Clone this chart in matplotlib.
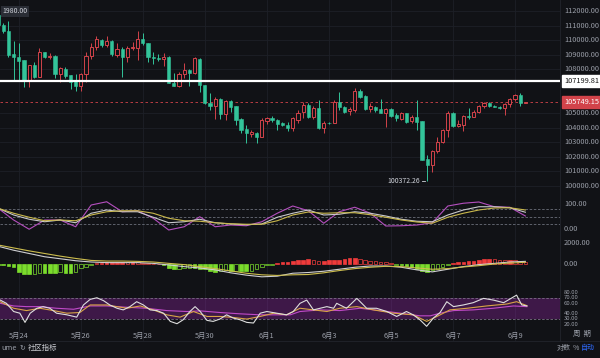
import matplotlib.pyplot as plt
import numpy as np

plt.rcParams['font.family'] = ['Noto Sans CJK SC', 'DejaVu Sans']

# 4h candles, oldest first
opens = [111725, 111040, 110650, 109027, 108867, 108638, 107197, 108295, 107494, 109164,
         108867, 108912, 107677, 108043, 107609, 107197, 106854, 107677, 108935, 109553,
         110010, 109667, 109941, 108981, 109370, 108821, 109438, 109484, 110079, 109827,
         108867, 108798, 108707, 108821, 107037, 106854, 107677, 107952, 107769, 108707,
         106923, 105665, 105482, 105962, 104910, 105825, 105482, 104567, 103881, 103561,
         103653, 103378, 104476, 104636, 104521, 104293, 104178, 103950, 104521, 105093,
         105550, 104705, 105322, 103950, 104339, 104339, 105779, 105436, 105139, 105208,
         106534, 106168, 105253, 105436, 105253, 105025, 105253, 104864, 104590, 104979,
         104476, 104750, 104453, 101823, 101434, 102417, 103035, 103835, 105025, 104110,
         104178, 104796, 104750, 105093, 105482, 105665, 105482, 105436, 105322, 105619,
         105940, 106237, 105700]
highs = [111980, 111200, 111337, 109941, 109781, 108638, 108295, 108524, 109438, 109210,
         109096, 108981, 108180, 108180, 107609, 107677, 107769, 109210, 109827, 110285,
         110056, 110285, 110010, 109827, 109553, 109598, 109896, 110650, 110468, 109827,
         109210, 109027, 109096, 108912, 107769, 107838, 108409, 107998, 108821, 108752,
         106923, 106351, 106077, 106008, 105894, 105894, 105482, 104636, 104178, 103835,
         103721, 104636, 104750, 104796, 104567, 104407, 104407, 104750, 105208, 105779,
         105665, 105482, 105894, 104476, 104407, 105894, 106465, 105482, 105390, 106694,
         106626, 106237, 105665, 105482, 105940, 105322, 105322, 105025, 105093, 105025,
         104865, 105894, 104453, 102120, 102463, 103378, 103881, 105162, 105093, 104521,
         104865, 105322, 105208, 105550, 105779, 105779, 105550, 105482, 105665, 106008,
         106306, 106397, 105770]
lows = [110970, 110468, 108867, 107266, 107266, 106762, 106808, 107380, 107494, 108752,
        108684, 107380, 107151, 107380, 106625, 106534, 106534, 107151, 108684, 109324,
        109553, 109553, 108912, 108867, 107449, 108524, 109324, 108638, 109667, 108524,
        108364, 108592, 108249, 107037, 106854, 106762, 107380, 106854, 107677, 106465,
        105619, 105207, 104567, 104567, 104521, 105093, 104178, 103607, 102966, 103378,
        102966, 103378, 104247, 104407, 103835, 104110, 103790, 103790, 104293, 104636,
        104636, 104567, 103881, 103652, 104247, 104293, 105208, 105025, 104865, 105093,
        106008, 105208, 105093, 105093, 104979, 104064, 104750, 104476, 104521, 104339,
        104339, 103835, 101777, 100372.26, 100977, 102280, 102920, 103378, 104019, 104064,
        103790, 104567, 104705, 104979, 105322, 105436, 105390, 105299, 104865, 105436,
        105848, 105482, 105700]
closes = [111040, 110650, 108981, 108867, 108592, 107197, 108295, 107494, 109164, 108867,
          108936, 107677, 108066, 107540, 107151, 106854, 107677, 108935, 109553, 110056,
          109667, 109964, 109027, 109370, 108821, 109484, 109553, 110079, 109782, 108867,
          108752, 108707, 108821, 107037, 106854, 107677, 107952, 107769, 108752, 106923,
          105665, 105482, 105962, 104910, 105825, 105436, 104521, 103835, 103607, 103721,
          103378, 104521, 104636, 104521, 104247, 104178, 103973, 104636, 105025, 105550,
          104750, 105322, 103950, 104339, 104293, 105779, 105390, 105093, 105253, 106534,
          106122, 105253, 105482, 105208, 105025, 105253, 104796, 104636, 104979, 104407,
          104750, 104407, 101777, 101434, 102417, 103035, 103835, 105025, 104110, 104247,
          104796, 104705, 105093, 105482, 105665, 105482, 105390, 105322, 105619, 105940,
          106237, 105700, 105749.15]

last_price = 105749.15
level_price = 107199.81
period_high = 111980.00
period_low = 100372.26

price_ticks = [112000, 111000, 110000, 109000, 108000, 105000, 104000, 103000, 102000, 101000, 100000]
date_pos = [4, 16, 28, 40, 52, 64, 76, 88, 100]
date_labels = ['5月24', '5月26', '5月28', '5月30', '6月1', '6月3', '6月5', '6月7', '6月9']

# KDJ, read every 3 bars
kdj_idx = list(range(0, 103, 3))
k_vals = [83, 56, 39, 29, 36, 25, 63, 76, 69, 69, 47, 25, 29, 39, 25, 20, 17, 20, 47, 63,
          76, 56, 59, 69, 63, 52, 39, 31, 29, 56, 76, 89, 89, 85, 67]
d_vals = [83, 63, 47, 33, 36, 33, 56, 69, 73, 73, 63, 43, 33, 31, 25, 21, 19, 19, 33, 56,
          68, 63, 65, 65, 57, 47, 36, 28, 23, 47, 63, 76, 84, 85, 76]
j_vals = [83, 36, -1, 36, 36, 9, 96, 109, 69, 73, 43, -4, 9, 49, 9, 16, 13, 29, 63, 92,
          73, 23, 69, 87, 63, 12, 13, 16, 25, 92, 103, 108, 89, 87, 52]

# MACD
dif_vals = [1690, 1310, 1000, 690, 500, 310, 190, 130, 130, 130, 60, -90, -250, -380, -560,
            -840, -1060, -1220, -1160, -880, -810, -690, -500, -310, -190, -190, -310, -560,
            -750, -500, -250, -60, 60, 190, 250]
dea_vals = [1810, 1530, 1250, 1000, 750, 530, 340, 280, 280, 250, 190, 60, -60, -250, -440,
            -660, -880, -1030, -1090, -1030, -1000, -840, -625, -440, -310, -220, -250, -375,
            -500, -440, -280, -160, 0, 90, 160]
hist_vals = [-50, -80, -150, -300, -800, -1000, -1000, -950, -850, -850,
             -850, -850, -800, -850, -850, -800, -400, -250, -120, 60,
             120, 150, 180, 200, 200, 180, 180, 150, 120, 60,
             40, 20, -100, -350, -500, -450, -400, -350, -400, -450,
             -500, -700, -750, -650, -600, -700, -650, -700, -700, -650,
             -500, -300, -100, -60, 120, 150, 200, 300, 350, 400,
             450, 350, 300, 300, 350, 400, 400, 450, 550, 550,
             450, 350, 300, 250, 200, 150, 100, -80, -100, -150,
             -250, -500, -700, -750, -600, -450, -300, -100, 100, 150,
             200, 250, 300, 400, 500, 500, 450, 400, 350, 400,
             350, 300, 200]

# RSI-type lines
rsi1_idx = [0.4, 1.6, 3.0, 4.2, 5.2, 6.2, 7.5, 8.7, 10.0, 11.3, 13.3, 15.2, 16.5, 17.8, 19.1,
            20.4, 21.6, 23.0, 24.2, 25.5, 26.8, 28.1, 29.4, 30.7, 32.0, 33.3, 34.6, 35.8, 37.1,
            38.1, 39.1, 40.4, 41.6, 42.9, 44.2, 45.5, 46.8, 48.1, 49.4, 50.7, 52.0, 53.9, 55.8,
            57.1, 58.4, 59.7, 61.0, 62.3, 63.6, 64.9, 65.5, 67.4, 69.4, 71.3, 73.2, 75.2, 77.1,
            79.0, 80.3, 81.6, 82.9, 84.2, 85.5, 86.8, 88.1, 90.0, 91.9, 93.9, 95.8, 97.8, 100.3,
            101.3, 102.3]
rsi1_vals = [65.6, 59.4, 43.8, 40.6, 23.1, 40.6, 50, 53.1, 50, 40.6, 37.5, 33.1, 56.3, 66.9, 70,
             64.4, 56.3, 50, 46.9, 53.1, 62.5, 56.3, 46.9, 45.6, 40.6, 25, 20.6, 28.1, 43.8,
             53.1, 43.8, 26.9, 25, 29.4, 37.5, 31.3, 28.1, 23.1, 21.9, 40.6, 43.8, 40.6, 37.5,
             43.8, 59.4, 65.6, 46.9, 50, 53.1, 50, 59.4, 50, 68.8, 50, 50, 43.8, 34.4,
             43.8, 37.5, 28.1, 15.6, 31.3, 41.9, 62.5, 53.1, 56.3, 60.6, 68.8, 65.6, 60.6, 75,
             56.3, 54.4]
rsi2_idx = [0.4, 3.0, 5.5, 8.1, 10.7, 13.3, 15.8, 17.8, 21.0, 24.9, 27.5, 30.0, 32.6, 35.2,
            37.8, 40.4, 42.9, 45.5, 48.1, 50.7, 53.3, 55.8, 58.4, 61.0, 63.6, 66.1, 69.4, 72.6,
            76.5, 80.3, 82.9, 84.9, 87.4, 90.7, 94.5, 98.4, 100.3, 102.3]
rsi2_vals = [62.5, 50, 45.6, 50, 45.6, 40.6, 41.9, 56.3, 56.3, 50, 54.4, 46.9, 37.5, 33.1,
             43.8, 34.4, 34.4, 32.5, 29.4, 34.4, 40.6, 37.5, 50, 46.9, 43.8, 50, 53.1, 46.9,
             40.6, 37.5, 25, 34.4, 46.9, 50, 54.4, 58.1, 62.5, 55]
rsi3_idx = [0.4, 3.0, 5.5, 8.1, 11.3, 14.6, 17.8, 21.0, 24.9, 28.7, 32.6, 36.5, 39.1, 42.9,
            46.8, 50.7, 53.9, 56.5, 58.4, 62.3, 66.1, 70.0, 73.9, 77.8, 81.6, 83.6, 85.5, 88.1,
            91.9, 95.8, 99.7, 102.3]
rsi3_vals = [59.4, 54.4, 53.1, 53.1, 50, 48.1, 54.4, 54.4, 51.9, 50, 45.6, 43.8, 45, 41.9,
             39.4, 37.5, 37.5, 37.5, 43.8, 46.9, 45.6, 50, 45.6, 40.6, 35.6, 35.6, 40.6, 45.6,
             46.9, 50, 54.4, 53.1]

BG = '#111216'
GRID = '#1d2027'
TXT = '#9a9ea8'
RED = '#d2434a'
GREEN = '#33c49a'
W, H = 600, 358
XMIN, XMAX = 0.36, 108.7

fig = plt.figure(figsize=(6, 3.58), dpi=100, facecolor=BG)


def pane(top, bottom, ylim):
    ax = fig.add_axes([0, 1 - bottom / H, 560 / W, (bottom - top) / H])
    ax.set_facecolor(BG)
    for s in ax.spines.values():
        s.set_visible(False)
    ax.set_xticks([])
    ax.set_yticks([])
    ax.set_xlim(XMIN, XMAX)
    ax.set_ylim(*ylim)
    for d in date_pos:
        ax.axvline(d, color=GRID, lw=0.6, zorder=0)
    return ax


def rlabel(ax, y, s, **kw):
    opts = dict(fontsize=5.3, color=TXT, va='center', ha='left')
    opts.update(kw)
    ax.text(1 + 4 / 560, y, s, transform=ax.get_yaxis_transform(), clip_on=False, **opts)


# ---- main candle pane
ax = pane(0, 192, (99586, 112754))
for p in price_ticks:
    ax.axhline(p, color=GRID, lw=0.6, zorder=0)
    rlabel(ax, p, f'{p:.2f}')

o = np.array(opens); c = np.array(closes); hi = np.array(highs); lo = np.array(lows)
x = np.arange(len(o))
up = c >= o
wick_col = np.where(up, RED, GREEN)
ax.vlines(x, lo, hi, colors=wick_col, lw=0.7, zorder=2)
body = np.maximum(np.abs(c - o), 25)
ax.bar(x[up], body[up], bottom=np.minimum(o, c)[up], width=0.62,
       facecolor=BG, edgecolor=RED, lw=0.7, zorder=3)
ax.bar(x[~up], body[~up], bottom=np.minimum(o, c)[~up], width=0.62,
       facecolor=GREEN, edgecolor=GREEN, lw=0.4, zorder=3)

ax.axhline(level_price, color='white', lw=1.6, zorder=4)
ax.axhline(last_price, color=RED, lw=0.6, ls=(0, (3, 3)), zorder=1)
rlabel(ax, level_price, f'{level_price:.2f}', color='#111111',
       bbox=dict(boxstyle='square,pad=0.25', fc='white', ec='white'))
rlabel(ax, last_price, f'{last_price:.2f}', color='white',
       bbox=dict(boxstyle='square,pad=0.25', fc=RED, ec=RED))

# high marker: only the tail of it is visible at the left edge of the chart
ax.text(0.004, period_high, f'{period_high:.2f}'[2:], fontsize=5, color='#d1d4dc', ha='left',
        va='center', transform=ax.get_yaxis_transform(), zorder=5,
        bbox=dict(boxstyle='square,pad=0.2', fc='#2a2d35', ec='none'))
ax.text(81.7, period_low, f'{period_low:.2f}', fontsize=5, color='#d1d4dc', ha='right', va='center')
ax.plot([82.0, 82.6], [period_low, period_low], color='#d1d4dc', lw=0.6)

# ---- KDJ pane
ax1 = pane(192, 237, (-32, 148))
for lvl in (80, 50, 20):
    ax1.axhline(lvl, color='#6b6f7a', lw=0.6, ls=(0, (3, 2)))
ax1.plot(kdj_idx, j_vals, color='#b54fbf', lw=0.8)
ax1.plot(kdj_idx, k_vals, color='#c9c9cc', lw=0.8)
ax1.plot(kdj_idx, d_vals, color='#c9b84c', lw=0.8)
rlabel(ax1, 100, '100.00')
rlabel(ax1, 0, '0.00')

# ---- MACD pane
ax2 = pane(237, 283, (-1810, 2571))
hv = np.array(hist_vals)
hx = np.arange(len(hv))
prev = np.concatenate([[0], np.abs(hv[:-1])])
grow = np.abs(hv) >= prev
for xi, v, g in zip(hx, hv, grow):
    col = '#ef3b3b' if v >= 0 else '#7bdc2c'
    ax2.bar(xi, v, width=0.7, facecolor=col if g else BG, edgecolor=col, lw=0.5)
ax2.plot(kdj_idx, dif_vals, color='#cfcfd2', lw=0.8)
ax2.plot(kdj_idx, dea_vals, color='#cdbd4e', lw=0.8)
rlabel(ax2, 2000, '2000.00')
rlabel(ax2, 0, '0.00')

# ---- RSI pane
ax3 = pane(283, 330, (8.6, 98.1))
ax3.axhspan(30, 70, color='#9c27b0', alpha=0.33, lw=0)
for lvl in (70, 30):
    ax3.axhline(lvl, color='#7b6f85', lw=0.6, ls=(0, (3, 2)))
ax3.plot(rsi3_idx, rsi3_vals, color='#c04ac8', lw=0.8)
ax3.plot(rsi2_idx, rsi2_vals, color='#d8a445', lw=0.8)
ax3.plot(rsi1_idx, rsi1_vals, color='#dedede', lw=0.8)
for v in (80, 70, 60, 40, 30, 20):
    rlabel(ax3, v, f'{v:.2f}', fontsize=4.3)

# ---- time axis
axt = pane(330, 341, (0, 1))
for d, lab in zip(date_pos, date_labels):
    axt.text(d, 0.45, lab, fontsize=5.3, color=TXT, ha='center', va='center')

# right axis separator and bottom bar
fig.add_artist(plt.Line2D([560 / W, 560 / W], [1 - 341 / H, 1], color='#22252c', lw=0.6))
fig.add_artist(plt.Line2D([0, 1], [1 - 341 / H, 1 - 341 / H], color='#22252c', lw=0.6))
fig.text(573 / W, 1 - 334 / H, '周  期', fontsize=5.3, color=TXT, va='center')
fig.text(1 / W, 1 - 348 / H, 'ume', fontsize=5.3, color=TXT, va='center')
fig.text(19 / W, 1 - 348 / H, '↻', fontsize=5, color=TXT, va='center')
fig.text(28 / W, 1 - 348 / H, '社区指标', fontsize=5.3, color='#c8cad0', va='center')
fig.text(557 / W, 1 - 348 / H, '对数', fontsize=5, color=TXT, va='center')
fig.text(573 / W, 1 - 348 / H, '%', fontsize=5, color=TXT, va='center')
fig.text(581 / W, 1 - 348 / H, '自动', fontsize=5, color='#2f6bff', va='center')

fig.savefig('out.png', dpi=100, facecolor=BG)
